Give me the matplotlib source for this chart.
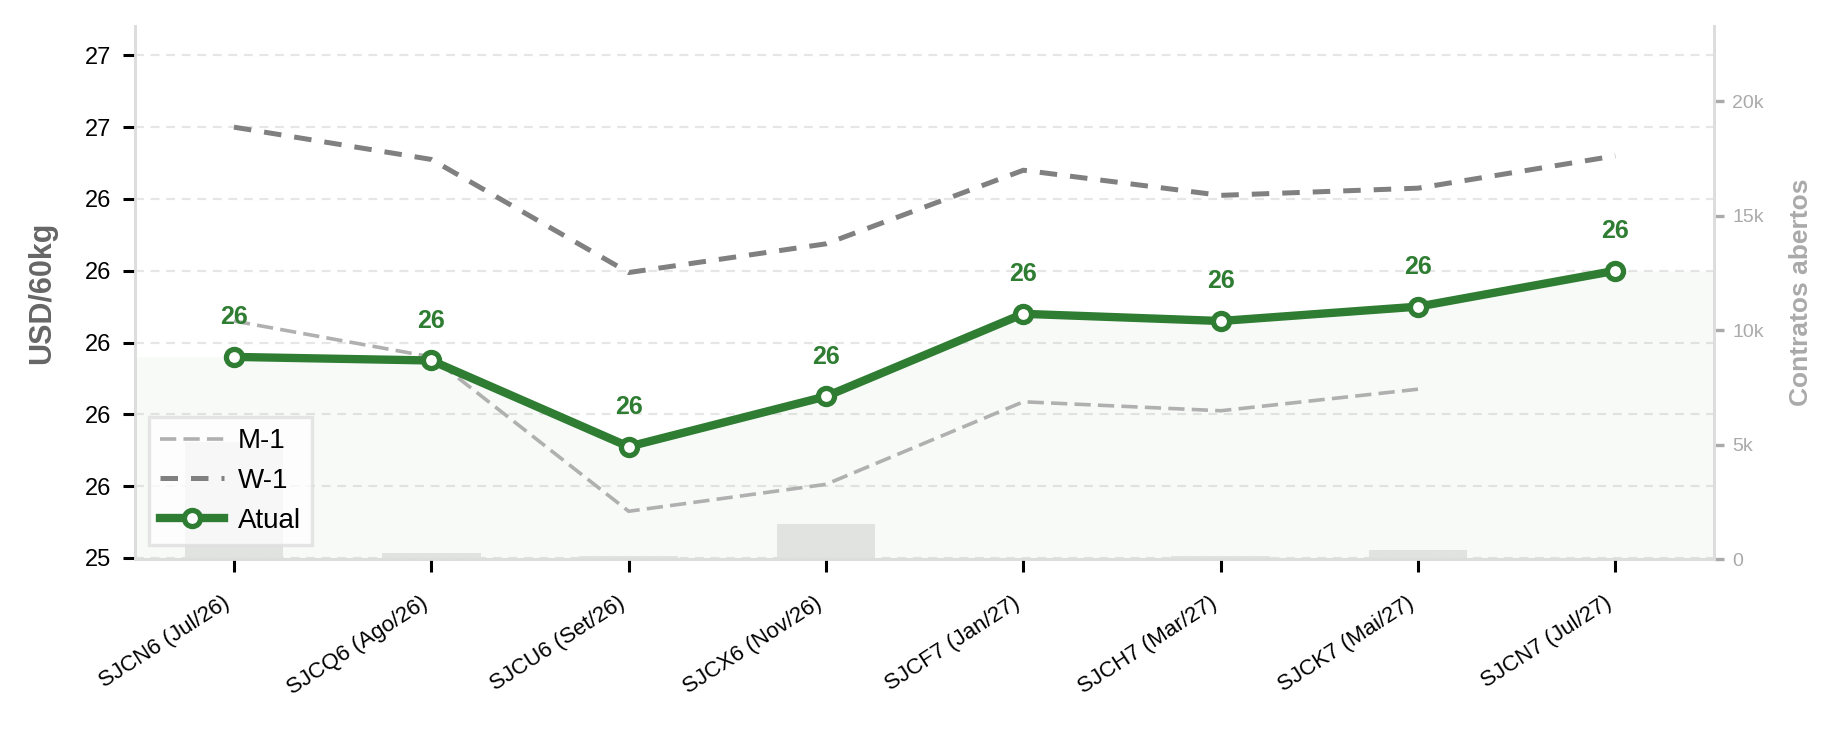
import numpy as np
import matplotlib
matplotlib.use("Agg")
import matplotlib.pyplot as plt
from matplotlib.ticker import FuncFormatter, FormatStrFormatter

plt.rcParams['font.family'] = ['Liberation Sans', 'DejaVu Sans']

contracts = ["SJCN6 (Jul/26)", "SJCQ6 (Ago/26)", "SJCU6 (Set/26)", "SJCX6 (Nov/26)",
             "SJCF7 (Jan/27)", "SJCH7 (Mar/27)", "SJCK7 (Mai/27)", "SJCN7 (Jul/27)"]
atual = [25.96, 25.95, 25.71, 25.85, 26.08, 26.06, 26.10, 26.20]
w_1 = [26.60, 26.51, 26.195, 26.275, 26.48, 26.41, 26.43, 26.52]
m_1 = [26.06, 25.96, 25.53, 25.605, 25.835, 25.81, 25.87, np.nan]
open_interest = [5100, 280, 130, 1530, 60, 130, 390, 30]

green = '#2e7d32'
x = np.arange(len(contracts))

fig = plt.figure(figsize=(9.23, 3.67), dpi=200)
ax = fig.add_axes([0.0733, 0.2384, 0.8552, 0.7263])
ax2 = ax.twinx()
ax.set_zorder(ax2.get_zorder() + 1)
ax.patch.set_visible(False)

ax2.bar(x, open_interest, width=0.5, color='#e0e0e0', alpha=0.75, zorder=1)
ax2.set_ylim(0, 23300)
ax2.set_yticks([0, 5000, 10000, 15000, 20000])
ax2.yaxis.set_major_formatter(FuncFormatter(lambda v, p: '0' if v == 0 else f'{int(v/1000)}k'))
ax2.tick_params(axis='y', colors='#aaaaaa', labelsize=7, length=3.5, width=1.2, pad=3)
ax2.set_ylabel('Contratos abertos', color='#aaaaaa', fontsize=9.5, fontweight='bold', labelpad=9)

ymin, ymax = 25.397, 26.882
ax.set_xlim(-0.5, 7.5)
ax.set_ylim(ymin, ymax)

xf = np.r_[-0.5, x, 7.5]
yf = np.r_[atual[0], atual, atual[-1]]
ax.fill_between(xf, yf, ymin, color=green, alpha=0.03, lw=0, zorder=1)

ax.plot(x, m_1, color='#b0b0b0', lw=1.3, ls=(0, (4.5, 2.0)), label='M-1', zorder=2)
ax.plot(x, w_1, color='#808080', lw=1.8, ls=(0, (3.5, 2.6)), label='W-1', zorder=2)
ax.plot(x, atual, color=green, lw=3.0, marker='o', markersize=5.8,
        markerfacecolor='white', markeredgecolor=green, markeredgewidth=1.9,
        label='Atual', zorder=4)

for xi, yi in zip(x, atual):
    ax.annotate(f'{yi:.0f}', (xi, yi), xytext=(0, 10), textcoords='offset points',
                ha='center', va='bottom', color=green, fontsize=9, fontweight='bold')

ax.set_yticks(np.arange(25.4, 26.81, 0.2))
ax.yaxis.set_major_formatter(FormatStrFormatter('%.0f'))
ax.set_xticks(x)
ax.set_xticklabels(contracts, rotation=33, ha='right', fontsize=8)
ax.tick_params(axis='y', labelsize=8.5, length=4.2, width=1.1, colors='black', pad=4.5)
ax.tick_params(axis='x', length=4.6, width=1.1, pad=7.5)
ax.set_ylabel('USD/60kg', color='#666666', fontsize=11, fontweight='bold', labelpad=10)
ax.grid(axis='y', color='#e6e6e6', ls=(0, (4, 3)), lw=0.8)
ax.set_axisbelow(True)

for a in (ax, ax2):
    a.spines['top'].set_visible(False)
    for s in ('left', 'right', 'bottom'):
        a.spines[s].set_color('#dddddd')
        a.spines[s].set_linewidth(1.0)

leg = ax.legend(loc='lower left', fontsize=10, frameon=True,
                fancybox=False, framealpha=0.75, edgecolor='#dddddd', handlelength=2.3,
                handletextpad=0.5, labelspacing=0.5)
leg.get_frame().set_linewidth(1.2)

fig.savefig('out.png', dpi=200)
